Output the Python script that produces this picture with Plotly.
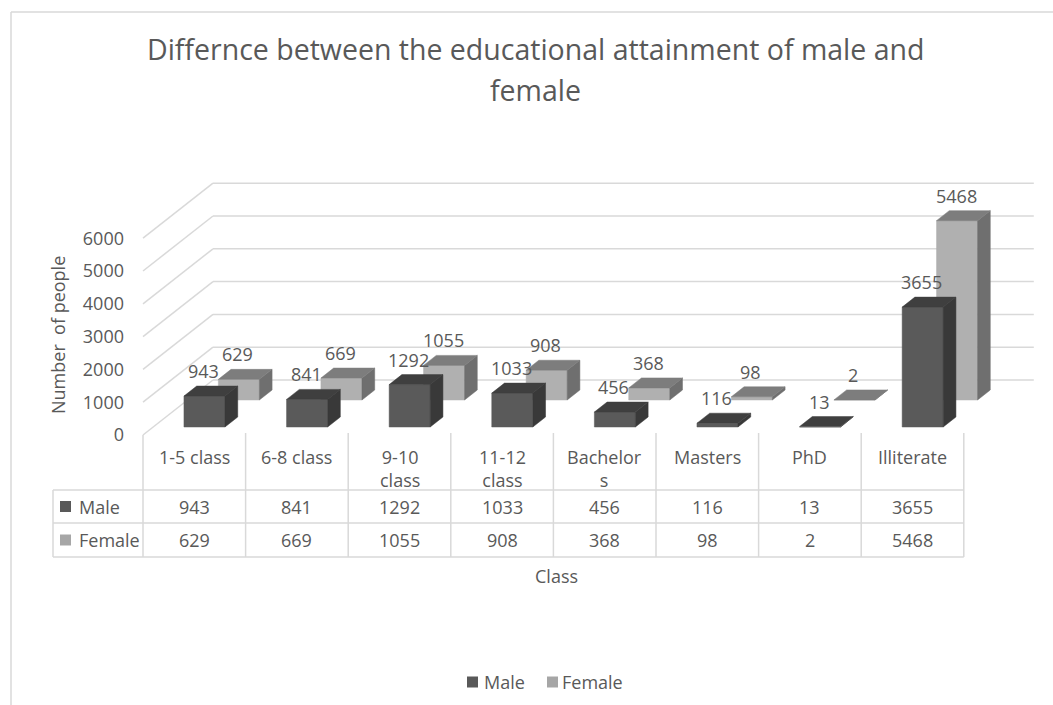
import plotly.graph_objects as go

# ---- chart data ----
categories = ["1-5 class", "6-8 class", "9-10 class", "11-12 class",
              "Bachelors", "Masters", "PhD", "Illiterate"]
header_labels = ["1-5 class", "6-8 class", "9-10<br>class", "11-12<br>class",
                 "Bachelor<br>s", "Masters", "PhD", "Illiterate"]
series_names = ["Male", "Female"]
male = [943, 841, 1292, 1033, 456, 116, 13, 3655]
female = [629, 669, 1055, 908, 368, 98, 2, 5468]
y_ticks = [0, 1000, 2000, 3000, 4000, 5000, 6000]

# ---- page geometry ----
W, H = 1053, 705
PX_CAT = 102.6        # pixels per category slot
PX_VAL = 0.0328       # pixels per person
X0_PX = 143           # left edge of the front plane
Y0_PX = 435           # zero line of the front plane

TEXT = "#595959"
GRID = "#d9d9d9"
FONT = "Open Sans"


def fx(px):
    return -0.5 + (px - X0_PX) / PX_CAT


def fy(py):
    return (Y0_PX - py) / PX_VAL


def px_x(px):
    return px / W


def px_y(py):
    return 1 - py / H


# oblique depth of the 3-D box (front plane -> back wall)
WALL_DX = 70 / PX_CAT
WALL_DY = 55 / PX_VAL
HALF_W = 0.2
# depth slots (fraction of the wall depth) for each series row
ROWS = {
    "Male": (8 / 55, 18 / 55),
    "Female": (35 / 55, 45 / 55),
}
COLORS = {
    "Male": {"front": "#5a5a5a", "top": "#3f3f3f", "side": "#393939", "key": "#595959"},
    "Female": {"front": "#b0b0b0", "top": "#7d7d7d", "side": "#6f6f6f", "key": "#a6a6a6"},
}
VALUES = {"Male": male, "Female": female}

fig = go.Figure()

# ---- walls: back-wall and side-wall gridlines ----
gx, gy = [], []
for v in y_ticks:
    # side wall diagonal
    gx += [-0.5, -0.5 + WALL_DX, None]
    gy += [v, v + WALL_DY, None]
    # back wall horizontal
    gx += [-0.5 + WALL_DX, len(categories) - 0.5 + WALL_DX, None]
    gy += [v + WALL_DY, v + WALL_DY, None]
fig.add_trace(go.Scatter(x=gx, y=gy, mode="lines",
                         line=dict(color=GRID, width=1.5),
                         hoverinfo="skip", showlegend=False))


def offset(pt, d):
    return pt[0] + d * WALL_DX, pt[1] + d * WALL_DY


def add_polys(polys, color):
    xs, ys = [], []
    for poly in polys:
        for (a, b) in poly:
            xs.append(a)
            ys.append(b)
        xs.append(poly[0][0])
        ys.append(poly[0][1])
        xs.append(None)
        ys.append(None)
    fig.add_trace(go.Scatter(x=xs, y=ys, mode="lines", fill="toself",
                             fillcolor=color, line=dict(color=color, width=0.5),
                             hoverinfo="skip", showlegend=False))


# ---- 3-D columns: back row first ----
for name in ["Female", "Male"]:
    d0, d1 = ROWS[name]
    fronts, tops, sides = [], [], []
    for i, v in enumerate(VALUES[name]):
        l, r = i - HALF_W, i + HALF_W
        fronts.append([offset((l, 0), d0), offset((r, 0), d0),
                       offset((r, v), d0), offset((l, v), d0)])
        tops.append([offset((l, v), d0), offset((r, v), d0),
                     offset((r, v), d1), offset((l, v), d1)])
        sides.append([offset((r, 0), d0), offset((r, 0), d1),
                      offset((r, v), d1), offset((r, v), d0)])
    add_polys(fronts, COLORS[name]["front"])
    add_polys(sides, COLORS[name]["side"])
    add_polys(tops, COLORS[name]["top"])

annotations = []
shapes = []


def note(x, y, text, size=18, xref="paper", yref="paper", **kw):
    kw.setdefault("xanchor", "center")
    kw.setdefault("yanchor", "middle")
    annotations.append(dict(x=x, y=y, xref=xref, yref=yref, text=text,
                            showarrow=False,
                            font=dict(family=FONT, size=size, color=TEXT), **kw))


# ---- data labels ----
for name in ["Female", "Male"]:
    d0, _ = ROWS[name]
    for i, v in enumerate(VALUES[name]):
        note(i + d0 * WALL_DX, v + d0 * WALL_DY, str(v), xref="x", yref="y",
             yshift=25, xshift=-1)

# ---- data table under the chart ----
T_TOP, R1, R2, R3 = 433, 490, 523, 557
T_LEFT = 53
n = len(categories)
for i in range(n + 1):
    top = T_TOP if i > 0 else Y0_PX
    shapes.append(dict(type="line", xref="x", yref="y",
                       x0=i - 0.5, x1=i - 0.5, y0=fy(top), y1=fy(R3),
                       line=dict(color=GRID, width=1.5)))
shapes.append(dict(type="line", xref="x", yref="y",
                   x0=fx(T_LEFT), x1=fx(T_LEFT), y0=fy(R1), y1=fy(R3),
                   line=dict(color=GRID, width=1.5)))
for r in (R1, R2, R3):
    shapes.append(dict(type="line", xref="x", yref="y",
                       x0=fx(T_LEFT), x1=n - 0.5, y0=fy(r), y1=fy(r),
                       line=dict(color=GRID, width=1.5)))

for i, lab in enumerate(header_labels):
    note(i, fy(443), lab, xref="x", yref="y", yanchor="top", align="center")
for row_y, name in zip(((R1 + R2) / 2, (R2 + R3) / 2), series_names):
    for i, v in enumerate(VALUES[name]):
        note(i, fy(row_y), str(v), xref="x", yref="y")
    # row key + name
    shapes.append(dict(type="rect", xref="paper", yref="paper",
                       x0=px_x(60), x1=px_x(71),
                       y0=px_y(row_y - 5.5), y1=px_y(row_y + 5.5),
                       fillcolor=COLORS[name]["key"], line=dict(width=0)))
    note(px_x(77), px_y(row_y), name, xanchor="left")

# ---- titles ----
note(px_x(535), px_y(49),
     "Differnce between the educational attainment of male and", size=28.5)
note(px_x(535), px_y(90), "female", size=28.5)
note(px_x(556), px_y(576), "Class")
note(px_x(58), px_y(335), "Number  of people", textangle=-90)

# ---- legend ----
leg_y = 682
for key_x, txt_x, name in ((467, 482, "Male"), (547, 560, "Female")):
    shapes.append(dict(type="rect", xref="paper", yref="paper",
                       x0=px_x(key_x), x1=px_x(key_x + 11),
                       y0=px_y(leg_y - 5.5), y1=px_y(leg_y + 5.5),
                       fillcolor=COLORS[name]["key"], line=dict(width=0)))
    note(px_x(txt_x), px_y(leg_y), name, xanchor="left")

# ---- chart-area border ----
shapes.append(dict(type="line", xref="paper", yref="paper",
                   x0=px_x(11), x1=px_x(11), y0=px_y(12), y1=0,
                   line=dict(color=GRID, width=1.5)))
shapes.append(dict(type="line", xref="paper", yref="paper",
                   x0=px_x(11), x1=1, y0=px_y(12), y1=px_y(12),
                   line=dict(color=GRID, width=1.5)))

x_range = [fx(0), fx(W)]
y_range = [fy(H), fy(0)]

fig.update_layout(
    width=W, height=H,
    margin=dict(l=0, r=0, t=0, b=0),
    paper_bgcolor="white", plot_bgcolor="white",
    showlegend=False,
    xaxis=dict(range=x_range, visible=False, fixedrange=True),
    yaxis=dict(range=y_range, visible=False, fixedrange=True),
    yaxis2=dict(range=y_range, overlaying="y", anchor="free",
                position=px_x(124), side="left",
                tickvals=y_ticks, ticktext=[str(t) for t in y_ticks],
                showgrid=False, zeroline=False, showline=False, ticks="",
                tickfont=dict(family=FONT, size=18, color=TEXT),
                fixedrange=True),
    annotations=annotations,
    shapes=shapes,
)
# attach an invisible trace so the value axis is drawn
fig.add_trace(go.Scatter(x=[None], y=[None], yaxis="y2", showlegend=False,
                         hoverinfo="skip"))

fig.write_html("out.html")
